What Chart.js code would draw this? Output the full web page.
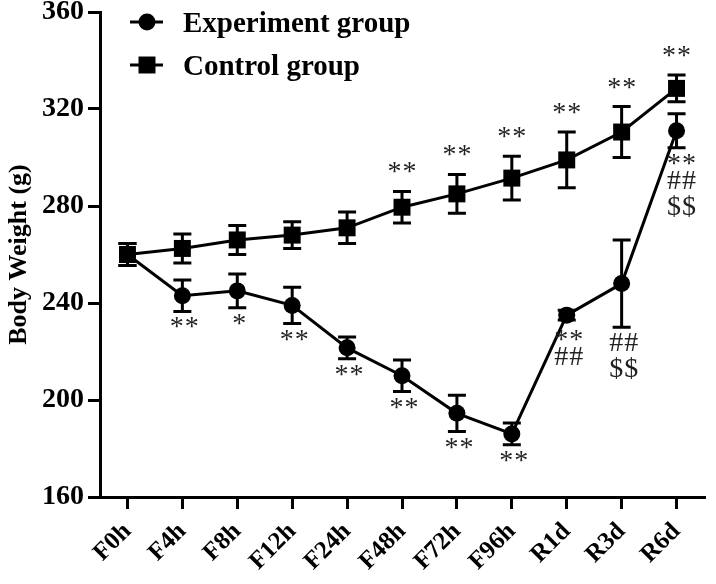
<!DOCTYPE html>
<html>
<head>
<meta charset="utf-8">
<script src="https://cdn.jsdelivr.net/npm/chart.js@4.4.0/dist/chart.umd.min.js"></script>
<style>
  html, body { margin: 0; padding: 0; background: #fff; }
  #wrap { width: 716px; height: 584px; }
</style>
</head>
<body>
<div id="wrap"><canvas id="weightChart"></canvas></div>
<script>
const timePoints = ['F0h', 'F4h', 'F8h', 'F12h', 'F24h', 'F48h', 'F72h', 'F96h', 'R1d', 'R3d', 'R6d'];

const expMean = [260, 243, 245, 239, 221.5, 210, 194.5, 186, 235, 248, 311];
const expErr = [4.5, 6.5, 7, 7.5, 4.5, 6.5, 7.5, 4.5, 2, 18, 7];
const expMarks = ['', '**', '*', '**', '**', '**', '**', '**', '**\n##', '##\n$$', '**\n##\n$$'];

const ctrlMean = [260, 262.5, 266, 268, 271, 279.5, 285, 291.5, 299, 310.5, 328.5];
const ctrlErr = [4.5, 6, 6, 5.5, 6.5, 6.5, 8, 9, 11.5, 10.5, 5.5];
const ctrlMarks = ['', '', '', '', '', '**', '**', '**', '**', '**', '**'];

const yTicks = [160, 200, 240, 280, 320, 360];

const serif = '"Liberation Serif", "Times New Roman", serif';

// error bars drawn under the markers
const errorBars = {
  id: 'errorBars',
  beforeDatasetsDraw(chart) {
    const ctx = chart.ctx, y = chart.scales.y;
    ctx.save();
    ctx.strokeStyle = '#000';
    ctx.lineWidth = 3;
    chart.data.datasets.forEach((ds, di) => {
      chart.getDatasetMeta(di).data.forEach((pt, i) => {
        const top = y.getPixelForValue(ds.data[i] + ds.errors[i]);
        const bot = y.getPixelForValue(ds.data[i] - ds.errors[i]);
        ctx.beginPath();
        ctx.moveTo(pt.x, top); ctx.lineTo(pt.x, bot);
        ctx.moveTo(pt.x - 9, top); ctx.lineTo(pt.x + 9, top);
        ctx.moveTo(pt.x - 9, bot); ctx.lineTo(pt.x + 9, bot);
        ctx.stroke();
      });
    });
    ctx.restore();
  }
};

// one line of marks, glyphs set 15px apart
function drawMarkLine(ctx, line, cx, baseline) {
  const step = 15;
  const x0 = cx - (line.length - 1) * step / 2;
  for (let j = 0; j < line.length; j++) {
    ctx.fillText(line[j], x0 + j * step, baseline);
  }
}

// significance marks, above control / below experiment
const sigMarks = {
  id: 'sigMarks',
  afterDatasetsDraw(chart) {
    const ctx = chart.ctx, y = chart.scales.y;
    ctx.save();
    ctx.fillStyle = '#222';
    ctx.font = '28px ' + serif;
    ctx.textAlign = 'center';
    ctx.textBaseline = 'alphabetic';
    chart.data.datasets.forEach((ds, di) => {
      const pts = chart.getDatasetMeta(di).data;
      pts.forEach((pt, i) => {
        const txt = ds.marks[i];
        if (!txt) return;
        const lines = txt.split('\n');
        if (ds.marksAbove) {
          let yb = y.getPixelForValue(ds.data[i] + ds.errors[i]) - 4;
          for (let k = lines.length - 1; k >= 0; k--) {
            const m = ctx.measureText(lines[k]);
            drawMarkLine(ctx, lines[k], pt.x, yb + m.actualBoundingBoxDescent);
            yb -= m.actualBoundingBoxAscent + m.actualBoundingBoxDescent + 7;
          }
        } else {
          const errBot = y.getPixelForValue(ds.data[i] - ds.errors[i]);
          let yt = Math.max(errBot, pt.y + 8.5) + 6;
          const dx = i === pts.length - 1 ? 5 : 2;
          lines.forEach(line => {
            const m = ctx.measureText(line);
            drawMarkLine(ctx, line, pt.x + dx, yt + m.actualBoundingBoxAscent);
            yt += m.actualBoundingBoxAscent + m.actualBoundingBoxDescent + 6;
          });
        }
      });
    });
    ctx.restore();
  }
};

// legend in the top-left corner of the plot
const cornerLegend = {
  id: 'cornerLegend',
  afterDraw(chart) {
    const ctx = chart.ctx;
    ctx.save();
    chart.data.datasets.forEach((ds, di) => {
      const cy = 22 + di * 43;
      ctx.strokeStyle = '#000';
      ctx.lineWidth = 3;
      ctx.beginPath();
      ctx.moveTo(130, cy); ctx.lineTo(163, cy);
      ctx.stroke();
      ctx.fillStyle = '#000';
      Chart.helpers.drawPoint(ctx, {
        pointStyle: ds.pointStyle, radius: ds.pointRadius, rotation: 0, borderWidth: 0
      }, 147, cy);
      ctx.font = 'bold 29px ' + serif;
      ctx.textAlign = 'left';
      ctx.textBaseline = 'alphabetic';
      ctx.fillText(ds.label, 183, cy + 10);
    });
    ctx.restore();
  }
};

new Chart(document.getElementById('weightChart'), {
  type: 'line',
  data: {
    labels: timePoints,
    datasets: [{
      label: 'Experiment group',
      data: expMean,
      errors: expErr,
      marks: expMarks,
      marksAbove: false,
      borderColor: '#000',
      backgroundColor: '#000',
      borderWidth: 3,
      pointStyle: 'circle',
      pointRadius: 8.5,
      pointHoverRadius: 8.5,
      pointBorderWidth: 0,
      tension: 0,
      clip: false
    }, {
      label: 'Control group',
      data: ctrlMean,
      errors: ctrlErr,
      marks: ctrlMarks,
      marksAbove: true,
      borderColor: '#000',
      backgroundColor: '#000',
      borderWidth: 3,
      pointStyle: 'rect',
      pointRadius: 12,
      pointHoverRadius: 12,
      pointBorderWidth: 0,
      tension: 0,
      clip: false
    }]
  },
  options: {
    responsive: true,
    maintainAspectRatio: false,
    animation: false,
    layout: { padding: { top: 0, right: 3, left: 0, bottom: 0 } },
    scales: {
      x: {
        type: 'category',
        offset: true,
        afterFit: (scale) => { scale.height = 87; },
        grid: {
          display: true,
          drawOnChartArea: false,
          drawTicks: true,
          tickLength: 12,
          lineWidth: 3,
          color: '#000',
          offset: false
        },
        border: { display: true, color: '#000', width: 3 },
        ticks: {
          color: '#000',
          minRotation: 45,
          maxRotation: 45,
          padding: 8,
          font: { family: serif, size: 25, weight: 'bold' }
        }
      },
      y: {
        min: 160,
        max: 360,
        afterFit: (scale) => { scale.width = 100; },
        afterBuildTicks: (scale) => { scale.ticks = yTicks.map(v => ({ value: v })); },
        grid: {
          display: true,
          drawOnChartArea: false,
          drawTicks: true,
          tickLength: 12,
          lineWidth: 3,
          color: '#000'
        },
        border: { display: true, color: '#000', width: 3 },
        ticks: {
          color: '#000',
          padding: 4,
          font: { family: serif, size: 28, weight: 'bold', lineHeight: 0.55 }
        },
        title: {
          display: true,
          text: 'Body Weight (g)',
          color: '#000',
          padding: { top: 4, bottom: 0 },
          font: { family: serif, size: 26, weight: 'bold', lineHeight: 1.2 }
        }
      }
    },
    plugins: {
      legend: { display: false },
      tooltip: { enabled: false }
    }
  },
  plugins: [errorBars, sigMarks, cornerLegend]
});
</script>
</body>
</html>
